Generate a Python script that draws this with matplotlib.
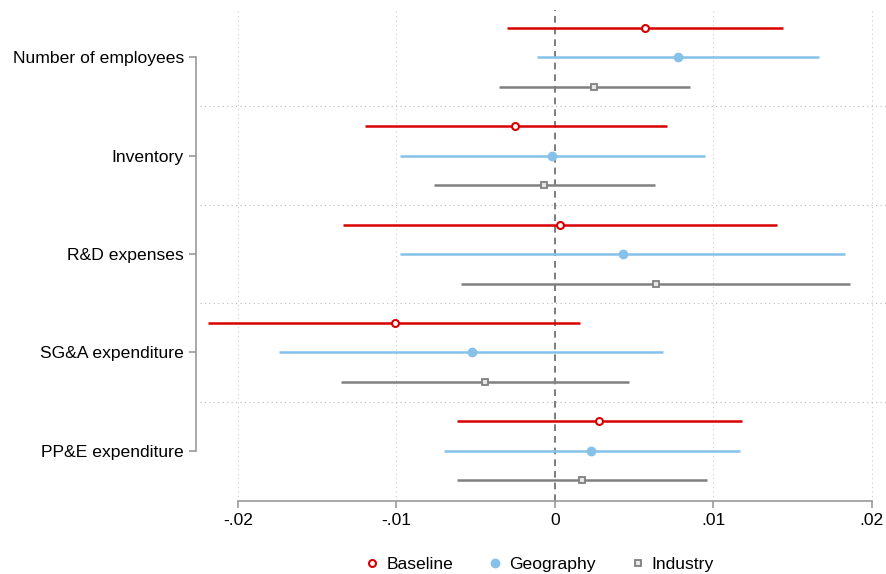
import matplotlib.pyplot as plt
import numpy as np

plt.rcParams['font.family'] = ['Liberation Sans', 'DejaVu Sans']

outcomes = ["Number of employees", "Inventory", "R&D expenses",
            "SG&A expenditure", "PP&E expenditure"]
series = ["Baseline", "Geography", "Industry"]

# point estimates and confidence bounds, one row per outcome
est = {
    "Baseline":  [0.0057, -0.0025, 0.0003, -0.0101, 0.0028],
    "Geography": [0.0078, -0.0002, 0.0043, -0.0052, 0.0023],
    "Industry":  [0.0025, -0.0007, 0.0064, -0.0044, 0.0017],
}
lo = {
    "Baseline":  [-0.0030, -0.0120, -0.0134, -0.0219, -0.0062],
    "Geography": [-0.0011, -0.0098, -0.0098, -0.0174, -0.0070],
    "Industry":  [-0.0035, -0.0076, -0.0059, -0.0135, -0.0062],
}
hi = {
    "Baseline":  [0.0144, 0.0071, 0.0140, 0.0016, 0.0118],
    "Geography": [0.0167, 0.0095, 0.0183, 0.0068, 0.0117],
    "Industry":  [0.0085, 0.0063, 0.0186, 0.0047, 0.0096],
}
xticks = [-0.02, -0.01, 0, 0.01, 0.02]
xticklabels = ["-.02", "-.01", "0", ".01", ".02"]

colors = {"Baseline": "#d90000", "Geography": "#86c1ea", "Industry": "#808080"}
markers = {
    "Baseline": dict(marker="o", mfc="white", mec="#d90000", ms=5, mew=1.5),
    "Geography": dict(marker="o", mfc="#86c1ea", mec="#86c1ea", ms=6, mew=1),
    "Industry": dict(marker="s", mfc="#e6e6e6", mec="#808080", ms=5, mew=1.3),
}
offsets = {"Baseline": -0.3, "Geography": 0.0, "Industry": 0.3}

fig = plt.figure(figsize=(8.86, 5.74), dpi=100)
ax = fig.add_axes([0.2257, 0.127, 0.7743, 0.8556])

ypos = np.arange(len(outcomes))

for x in xticks:
    if x != 0:
        ax.axvline(x, color="#cccccc", lw=0.8, ls=(0, (1, 3)), zorder=0)
for b in ypos[:-1] + 0.5:
    ax.axhline(b, color="#bbbbbb", lw=0.8, ls=(0, (1, 3)), zorder=0)
ax.axvline(0, color="#666666", lw=1.2, ls=(0, (4, 3)), zorder=1)

handles = []
for s in series:
    y = ypos + offsets[s]
    ax.hlines(y, lo[s], hi[s], color=colors[s], lw=1.8, zorder=2)
    h, = ax.plot(est[s], y, ls="none", zorder=3, label=s, **markers[s])
    handles.append(h)

ax.set_xlim(-0.0224, 0.0209)
ax.set_ylim(4.51, -0.48)
ax.set_yticks(ypos)
ax.set_yticklabels(outcomes)
ax.set_xticks(xticks)
ax.set_xticklabels(xticklabels)

for side in ["top", "right"]:
    ax.spines[side].set_visible(False)
ax.spines["left"].set_bounds(0, 4)
ax.spines["bottom"].set_bounds(-0.02, 0.02)
for side in ["left", "bottom"]:
    ax.spines[side].set_color("#999999")
    ax.spines[side].set_linewidth(1.2)
ax.spines["left"].set_position(("outward", 3))
ax.tick_params(colors="#999999", labelcolor="black", length=5, width=1.2,
               labelsize=12.6)

fig.legend(handles=handles, loc="center", bbox_to_anchor=(0.609, 0.017),
           ncol=3, frameon=False, fontsize=12.6, handlelength=0.8,
           handletextpad=0.4, columnspacing=2.0)

fig.savefig("out.png", dpi=100)
